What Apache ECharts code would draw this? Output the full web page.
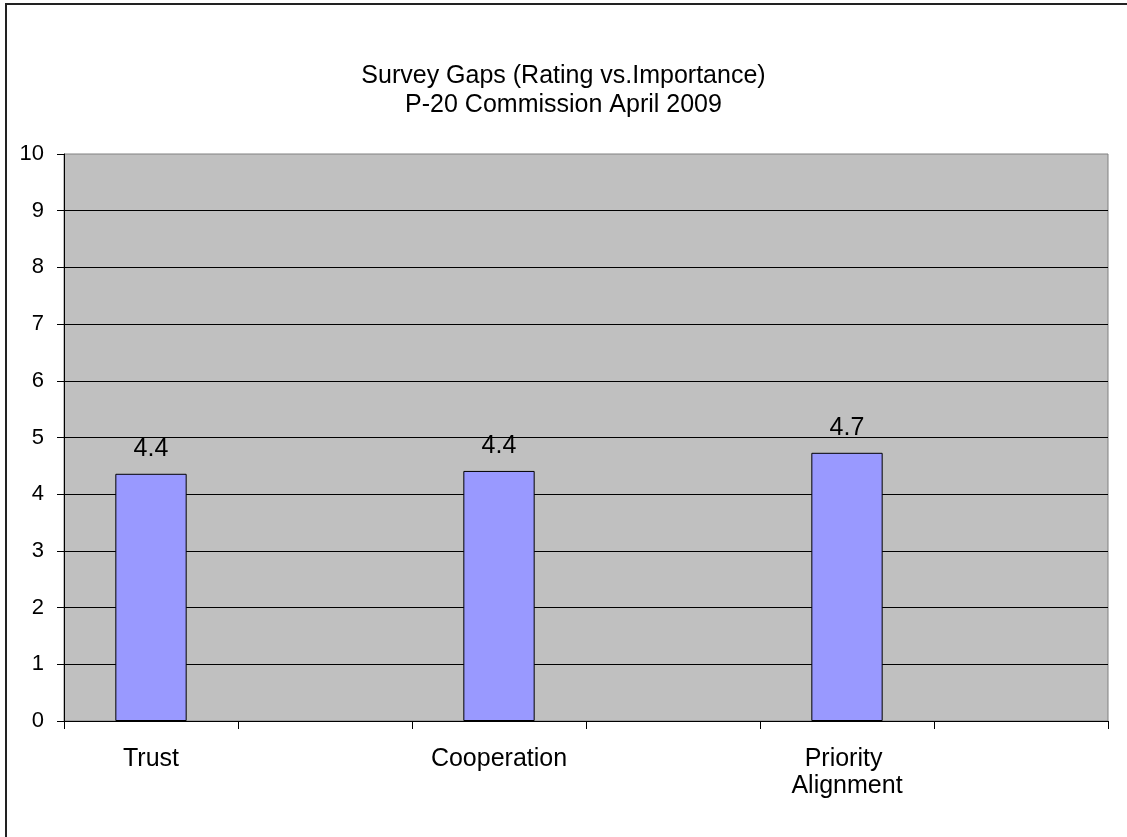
<!DOCTYPE html>
<html>
<head>
<meta charset="utf-8">
<script src="https://cdn.jsdelivr.net/npm/echarts@6/dist/echarts.min.js"></script>
<style>
  html, body { margin: 0; padding: 0; background: #fff; }
  #main { width: 1127px; height: 837px; }
</style>
</head>
<body>
<div id="main"></div>
<script>
// categories incl. the empty slots the original chart leaves between bars
var categories = ['Trust', '', 'Cooperation', '', 'Priority Alignment', ''];
var gapValues = [4.36, null, 4.41, null, 4.73, null];
var yTicks = [0, 10, 1]; // min, max, step

var font = "'Liberation Sans', Arial, sans-serif";

var chart = echarts.init(document.getElementById('main'));
var option = {
  animation: false,
  backgroundColor: '#fff',
  title: {
    text: 'Survey Gaps (Rating vs.Importance)\nP-20 Commission April 2009',
    left: 'center',
    top: 57,
    textStyle: {
      fontFamily: font,
      fontSize: 25,
      fontWeight: 'normal',
      color: '#000',
      lineHeight: 29
    }
  },
  graphic: [{
    type: 'rect',
    shape: { x: 6, y: 4, width: 1140, height: 850 },
    style: { fill: 'none', stroke: '#222', lineWidth: 2 },
    silent: true
  }],
  grid: {
    left: 64,
    right: 19,
    top: 154,
    bottom: 116,
    show: true,
    backgroundColor: '#c0c0c0',
    borderColor: '#808080',
    borderWidth: 1
  },
  xAxis: {
    type: 'category',
    data: categories,
    boundaryGap: true,
    axisLine: { lineStyle: { color: '#000', width: 1 } },
    axisTick: { show: true, length: 8, interval: 0, lineStyle: { color: '#000' } },
    axisLabel: {
      interval: 0,
      color: '#000',
      fontFamily: font,
      fontSize: 25,
      lineHeight: 27,
      margin: 25,
      width: 165,
      overflow: 'break'
    },
    splitLine: { show: false }
  },
  yAxis: {
    type: 'value',
    min: yTicks[0],
    max: yTicks[1],
    interval: yTicks[2],
    axisLine: { show: true, lineStyle: { color: '#000', width: 1 } },
    axisTick: { show: true, length: 7, lineStyle: { color: '#000' } },
    axisLabel: {
      color: '#000',
      fontFamily: font,
      fontSize: 22,
      margin: 20
    },
    splitLine: {
      show: true,
      showMaxLine: false,
      lineStyle: { color: '#000', width: 1 }
    }
  },
  series: [{
    type: 'bar',
    data: gapValues,
    barWidth: '41%',
    itemStyle: {
      color: '#9999ff',
      borderColor: '#000',
      borderWidth: 1
    },
    label: {
      show: true,
      position: 'top',
      distance: 12,
      color: '#000',
      fontFamily: font,
      fontSize: 25,
      formatter: function (p) { return p.value.toFixed(1); }
    }
  }]
};
chart.setOption(option);
window.onresize = function () { chart.resize(); };
</script>
</body>
</html>
